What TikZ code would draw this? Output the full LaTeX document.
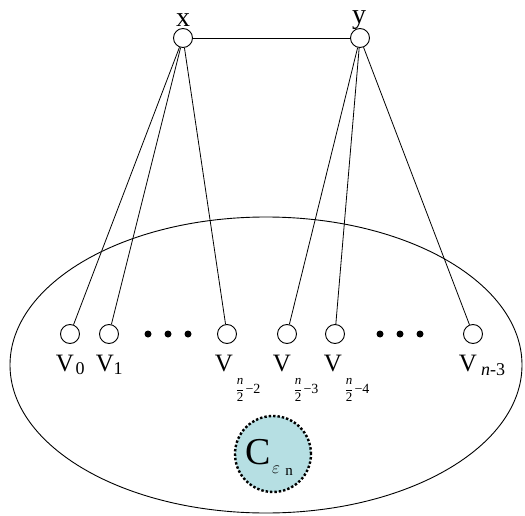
\documentclass[tikz,border=0pt]{standalone}
\usepackage{fontspec}
\setmainfont{Liberation Serif}
\newcommand{\halfsub}[1]{$\displaystyle\frac{\textit{n}}{\textrm{2}}$\kern1pt{\fontsize{14}{14}\selectfont −#1}}
\begin{document}
\begin{tikzpicture}[x=1pt,y=-1pt,
  vert/.style={circle,draw,fill=white,minimum size=19pt,inner sep=0pt,line width=0.9pt},
  dotn/.style={circle,fill=black,minimum size=7pt,inner sep=0pt},
  vlab/.style={inner sep=0pt,font=\fontsize{25}{25}\selectfont},
  xylab/.style={inner sep=0pt,font=\fontsize{28}{28}\selectfont},
  sub/.style={inner sep=0pt,font=\fontsize{18}{18}\selectfont},
  frac/.style={inner sep=0pt,font=\fontsize{13}{13}\selectfont},
  edge/.style={line width=0.8pt}]
\useasboundingbox (0,0) rectangle (525,516);
\draw[line width=0.9pt] (266,365) ellipse [x radius=256, y radius=148];
\node[circle,fill={rgb,255:red,182;green,223;blue,227},draw,dotted,line width=2.4pt,minimum size=76pt,inner sep=0pt] (c) at (273,454) {};
\node[inner sep=0pt,font=\fontsize{38}{38}\selectfont] (cl) at (258,452) {C};
\node[inner sep=0pt,font=\fontsize{17}{17}\selectfont] (ce) at (276,470) {$\varepsilon$};
\node[inner sep=0pt,font=\fontsize{15}{15}\selectfont] (cn) at (289,472) {n};
\node[vert] (x) at (183,38) {};
\node[vert] (y) at (360,38) {};
\node[xylab] (xl) at (183,20) {x};
\node[xylab] (yl) at (359,20) {y};
\node[vert] (v0) at (70,334) {};
\node[vert] (v1) at (109,334) {};
\node[vert] (va) at (227,334) {};
\node[vert] (vb) at (287,334) {};
\node[vert] (vc) at (335,334) {};
\node[vert] (vd) at (473,334) {};
\draw[edge] (x) -- (y);
\foreach \t in {v0,v1,va} \draw[edge] (x) -- (\t);
\foreach \t in {vb,vc,vd} \draw[edge] (y) -- (\t);
\node[dotn] (d1) at (148,334) {};
\node[dotn] (d2) at (168,334) {};
\node[dotn] (d3) at (188,334) {};
\node[dotn] (d4) at (380,334) {};
\node[dotn] (d5) at (400,334) {};
\node[dotn] (d6) at (420,334) {};
\node[vlab] (l0) at (65,364) {V};
\node[sub] (s0) at (80,369) {0};
\node[vlab] (l1) at (105,364) {V};
\node[sub] (s1) at (118,369) {1};
\node[vlab] (la) at (224,364) {V};
\node[frac] (fa) at (248,390) {\halfsub{2}};
\node[vlab] (lb) at (282,364) {V};
\node[frac] (fb) at (306,390) {\halfsub{3}};
\node[vlab] (lc) at (333,364) {V};
\node[frac] (fc) at (357,390) {\halfsub{4}};
\node[vlab] (ld) at (468,364) {V};
\node[sub,anchor=west] (sd) at (481,370) {\itshape n\upshape -3};
\end{tikzpicture}
\end{document}
